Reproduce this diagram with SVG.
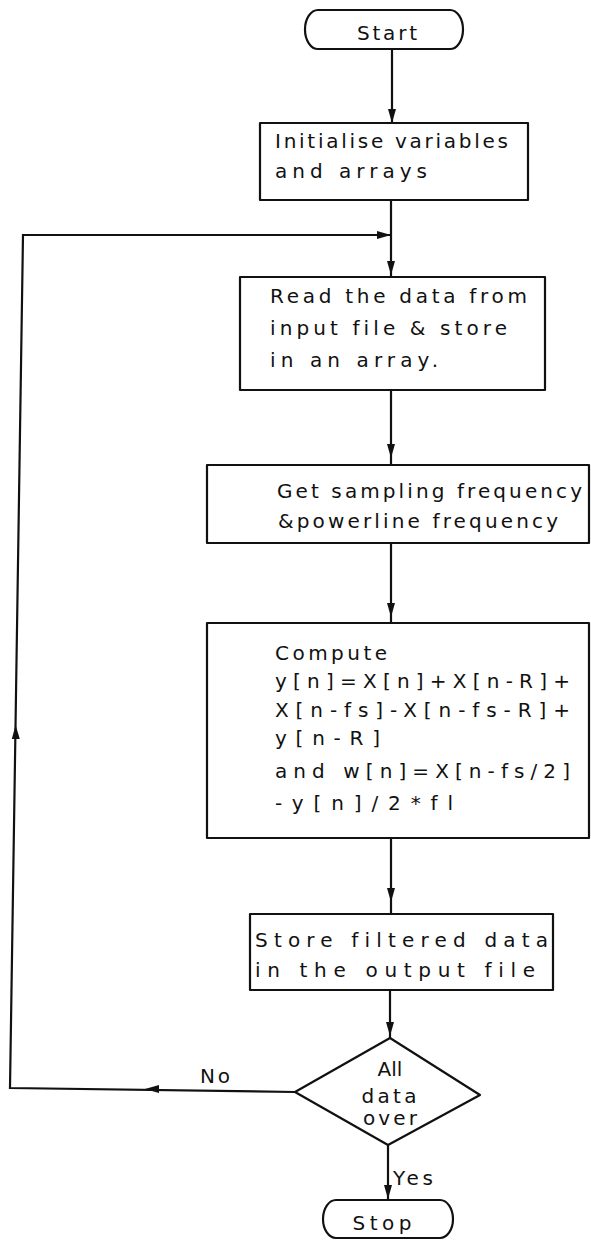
<svg xmlns="http://www.w3.org/2000/svg" width="591" height="1240" viewBox="0 0 591 1240">
<style>
.sh{fill:#fff;stroke:#111;stroke-width:2.2;stroke-linejoin:round}
.ln{fill:none;stroke:#111;stroke-width:2.2}
.t{font-family:"DejaVu Sans","Liberation Sans",sans-serif;font-size:20px;fill:#111;font-variant-ligatures:none;font-feature-settings:"liga" 0,"clig" 0}
.c{text-anchor:middle}
.ah{fill:#111}
</style>
<defs>
<path id="ah" d="M0 0 L-14 -4 L-14 4 Z"/>
</defs>
<rect width="591" height="1240" fill="#fff"/>
<g id="connectors">
<path class="ln" d="M392 49 V123"/>
<path class="ln" d="M391 200 V277"/>
<path class="ln" d="M391 390 V465"/>
<path class="ln" d="M391 543 V623"/>
<path class="ln" d="M391 838 V914"/>
<path class="ln" d="M390 990 V1038"/>
<path class="ln" d="M388 1145 V1200"/>
<path class="ln" d="M295 1092 L10 1088 L23 235 L391 235"/>
<use href="#ah" class="ah" transform="translate(392,123) rotate(90)"/>
<use href="#ah" class="ah" transform="translate(391,275) rotate(90)"/>
<use href="#ah" class="ah" transform="translate(391,235)"/>
<use href="#ah" class="ah" transform="translate(391,458) rotate(90)"/>
<use href="#ah" class="ah" transform="translate(391,617) rotate(90)"/>
<use href="#ah" class="ah" transform="translate(391,902) rotate(90)"/>
<use href="#ah" class="ah" transform="translate(390,1036) rotate(90)"/>
<use href="#ah" class="ah" transform="translate(388,1199) rotate(90)"/>
<use href="#ah" class="ah" transform="translate(145,1089) rotate(180)"/>
<use href="#ah" class="ah" transform="translate(15.6,725) rotate(-90.9)"/>
<text class="t" x="200" y="1083" textLength="30" lengthAdjust="spacing">No</text>
<text class="t" x="393" y="1185" textLength="40" lengthAdjust="spacing">Yes</text>
</g>
<g id="start">
<path class="sh" d="M318 10 H450 A13 19.5 0 0 1 450 49 H318 A13 19.5 0 0 1 318 10 Z"/>
<text class="t c" x="387" y="40" textLength="60" lengthAdjust="spacing">Start</text>
</g>
<g id="init">
<rect class="sh" x="260" y="123" width="268" height="77"/>
<text class="t" x="275" y="148" textLength="233" lengthAdjust="spacing">Initialise variables</text>
<text class="t" x="275" y="178" textLength="152" lengthAdjust="spacing">and arrays</text>
</g>
<g id="read">
<rect class="sh" x="240" y="277" width="305" height="113"/>
<text class="t" x="270" y="303" textLength="257" lengthAdjust="spacing">Read the data from</text>
<text class="t" x="270" y="335" textLength="237" lengthAdjust="spacing">input file &amp; store</text>
<text class="t" x="270" y="367" textLength="168" lengthAdjust="spacing">in an array.</text>
</g>
<g id="getfreq">
<rect class="sh" x="207" y="465" width="382" height="78"/>
<text class="t" x="277" y="498" textLength="305" lengthAdjust="spacing">Get sampling frequency</text>
<text class="t" x="278" y="528" textLength="280" lengthAdjust="spacing">&amp;powerline frequency</text>
</g>
<g id="compute">
<rect class="sh" x="207" y="623" width="382" height="215"/>
<text class="t" x="275" y="660" textLength="112" lengthAdjust="spacing">Compute</text>
<text class="t" x="275" y="688" textLength="295" lengthAdjust="spacing">y[n]=X[n]+X[n-R]+</text>
<text class="t" x="275" y="717" textLength="295" lengthAdjust="spacing">X[n-fs]-X[n-fs-R]+</text>
<text class="t" x="275" y="745" textLength="105" lengthAdjust="spacing">y[n-R]</text>
<text class="t" x="275" y="778" textLength="295" lengthAdjust="spacing">and w[n]=X[n-fs/2]</text>
<text class="t" x="275" y="810" textLength="178" lengthAdjust="spacing">-y[n]/2*fl</text>
</g>
<g id="store">
<rect class="sh" x="250" y="914" width="303" height="76"/>
<text class="t" x="255" y="947" textLength="293" lengthAdjust="spacing">Store filtered data</text>
<text class="t" x="255" y="977" textLength="280" lengthAdjust="spacing">in the output file</text>
</g>
<g id="decision">
<path class="sh" d="M390 1038 L480 1095 L388 1145 L295 1092 Z"/>
<text class="t c" x="390" y="1076">All</text>
<text class="t c" x="389" y="1103" textLength="55" lengthAdjust="spacing">data</text>
<text class="t c" x="390" y="1125" textLength="54" lengthAdjust="spacing">over</text>
</g>
<g id="stop">
<path class="sh" d="M336 1200 H440 A13 19 0 0 1 440 1238 H336 A13 19 0 0 1 336 1200 Z"/>
<text class="t c" x="382" y="1230" textLength="59" lengthAdjust="spacing">Stop</text>
</g>
</svg>
